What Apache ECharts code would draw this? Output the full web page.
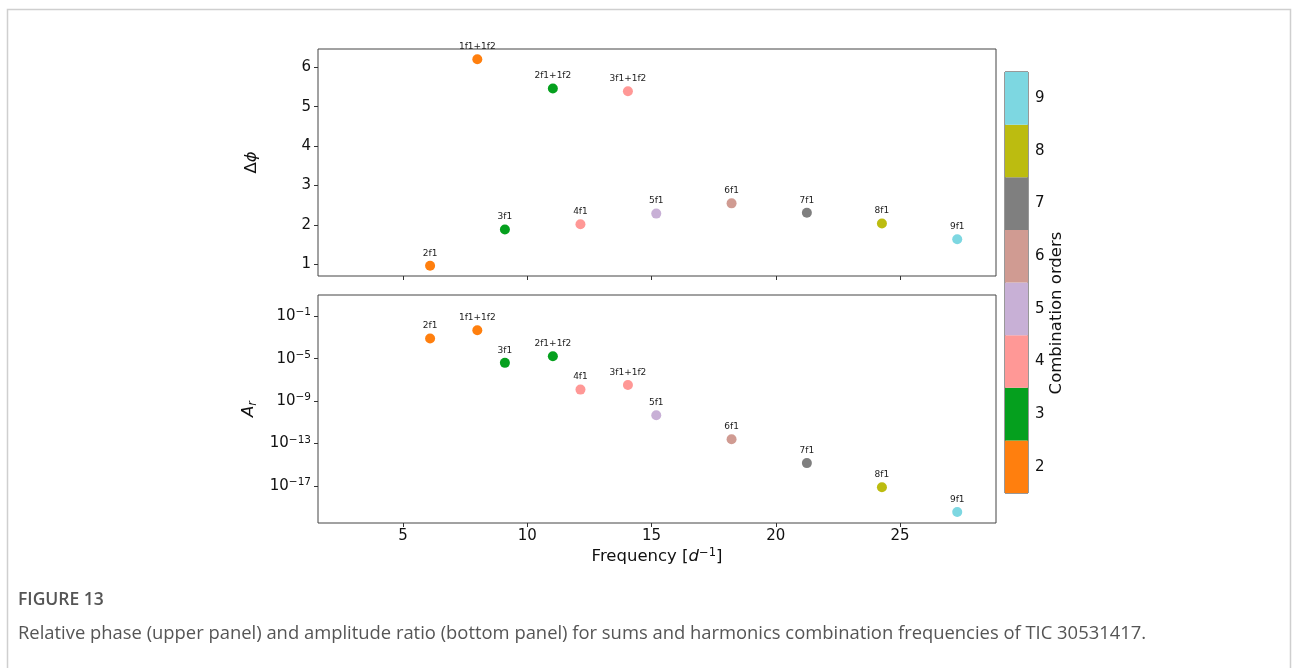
<!DOCTYPE html>
<html>
<head>
<meta charset="utf-8">
<script src="https://cdn.jsdelivr.net/npm/echarts@6/dist/echarts.min.js"></script>
<style>
  html, body { margin: 0; padding: 0; background: #fff; }
  #main { width: 1292px; height: 668px; }
</style>
</head>
<body>
<div id="main"></div>
<script>
// combination frequencies of TIC 30531417
var labels = ['2f1', '1f1+1f2', '3f1', '2f1+1f2', '4f1', '3f1+1f2', '5f1', '6f1', '7f1', '8f1', '9f1']
var freq = [6.09, 7.99, 9.10, 11.03, 12.14, 14.05, 15.19, 18.22, 21.25, 24.27, 27.30]
var phase = [0.97, 6.20, 1.89, 5.46, 2.02, 5.39, 2.29, 2.55, 2.31, 2.04, 1.64]
var ampRatio = [7.9e-4, 4.8e-3, 4.0e-6, 1.7e-5, 1.2e-8, 3.2e-8, 4.6e-11, 2.5e-13, 1.4e-15, 7.4e-18, 3.5e-20]
var orders = [2, 2, 3, 3, 4, 4, 5, 6, 7, 8, 9]

// colorbar
var orderLevels = ['2', '3', '4', '5', '6', '7', '8', '9']
var orderColors = ['#ff7f0e', '#05a01e', '#ff9896', '#c8b0d6', '#d09b92', '#7f7f7f', '#bcbc10', '#7dd7e1']

var xTicks = [5, 10, 15, 20, 25]
var phaseTicks = [1, 2, 3, 4, 5, 6]
var ampTicks = [1e-1, 1e-5, 1e-9, 1e-13, 1e-17]

var font = 'DejaVu Sans'
var chart = echarts.init(document.getElementById('main'))

function colorOf(p) {
  return orderColors[orders[p.dataIndex] - 2]
}

var phaseData = freq.map(function (f, i) { return [f, phase[i]] })
var ampData = freq.map(function (f, i) { return [f, ampRatio[i]] })

var pointLabel = {
  show: true,
  position: 'top',
  distance: 3,
  fontFamily: font,
  fontSize: 9,
  color: '#222',
  formatter: function (p) { return labels[p.dataIndex] }
}

var tickStyle = { show: true, inside: false, length: 4, lineStyle: { color: '#333' } }
var tickFont = { fontFamily: font, fontSize: 15, color: '#111' }

var option = {
  animation: false,
  backgroundColor: '#fff',
  textStyle: { fontFamily: font },
  grid: [
    { left: 318, top: 49, width: 678, height: 227, show: true, borderColor: '#444', borderWidth: 1 },
    { left: 318, top: 295, width: 678, height: 228, show: true, borderColor: '#444', borderWidth: 1 },
    { left: 1005, top: 72, width: 23, height: 421, show: true, borderColor: '#333', borderWidth: 1 }
  ],
  xAxis: [
    {
      gridIndex: 0, type: 'value', min: 1.58, max: 28.86,
      axisLine: { show: false }, splitLine: { show: false },
      axisTick: Object.assign({ customValues: xTicks }, tickStyle),
      axisLabel: { show: false }
    },
    {
      gridIndex: 1, type: 'value', min: 1.58, max: 28.86,
      axisLine: { show: false }, splitLine: { show: false },
      axisTick: Object.assign({ customValues: xTicks }, tickStyle),
      axisLabel: Object.assign({ customValues: xTicks, margin: 6 }, tickFont),
      name: 'Frequency [{i|d}{s|−1}]',
      nameLocation: 'middle',
      nameGap: 24,
      nameTextStyle: {
        fontFamily: font, fontSize: 16.5, color: '#111', lineHeight: 20,
        rich: {
          i: { fontFamily: font, fontSize: 16.5, fontStyle: 'italic', color: '#111', lineHeight: 20 },
          s: { fontFamily: font, fontSize: 11.5, color: '#111', verticalAlign: 'top', lineHeight: 12 }
        }
      }
    },
    {
      gridIndex: 2, type: 'value', min: 0, max: 1, show: false
    }
  ],
  yAxis: [
    {
      gridIndex: 0, type: 'value', min: 0.71, max: 6.46,
      axisLine: { show: false }, splitLine: { show: false },
      axisTick: Object.assign({ customValues: phaseTicks }, tickStyle),
      axisLabel: Object.assign({ customValues: phaseTicks, margin: 7 }, tickFont),
      name: 'Δ{i|ϕ}',
      nameLocation: 'middle',
      nameRotate: 90,
      nameGap: 58,
      nameTextStyle: {
        fontFamily: font, fontSize: 16.5, color: '#111',
        rich: { i: { fontFamily: font, fontSize: 16.5, fontStyle: 'italic', color: '#111' } }
      }
    },
    {
      gridIndex: 1, type: 'log', logBase: 10, min: Math.pow(10, -20.5), max: 10,
      axisLine: { show: false }, splitLine: { show: false },
      axisTick: Object.assign({ customValues: ampTicks }, tickStyle),
      axisLabel: {
        customValues: ampTicks, margin: 7,
        formatter: function (v) {
          var e = Math.round(Math.log10(v))
          return '{b|10}{s|' + String(e).replace('-', '−') + '}'
        },
        rich: {
          b: { fontFamily: font, fontSize: 15, color: '#111', lineHeight: 18 },
          s: { fontFamily: font, fontSize: 10.5, color: '#111', verticalAlign: 'top', lineHeight: 11 }
        }
      },
      name: '{i|A}{s|r}',
      nameLocation: 'middle',
      nameRotate: 90,
      nameGap: 55,
      nameTextStyle: {
        fontFamily: font, fontSize: 16.5, color: '#111',
        rich: {
          i: { fontFamily: font, fontSize: 16.5, fontStyle: 'italic', color: '#111', lineHeight: 20 },
          s: { fontFamily: font, fontSize: 11.5, fontStyle: 'italic', color: '#111', verticalAlign: 'bottom', lineHeight: 12 }
        }
      }
    },
    {
      gridIndex: 2, type: 'category', data: orderLevels, position: 'right',
      axisLine: { show: false }, splitLine: { show: false },
      axisTick: { show: true, alignWithLabel: true, length: 4, lineStyle: { color: '#333' } },
      axisLabel: Object.assign({ margin: 7 }, tickFont)
    }
  ],
  series: [
    {
      type: 'scatter', xAxisIndex: 0, yAxisIndex: 0,
      data: phaseData, symbolSize: 10,
      itemStyle: { color: colorOf, opacity: 1 },
      label: pointLabel
    },
    {
      type: 'scatter', xAxisIndex: 1, yAxisIndex: 1,
      data: ampData, symbolSize: 10,
      itemStyle: { color: colorOf, opacity: 1 },
      label: pointLabel
    },
    {
      type: 'bar', xAxisIndex: 2, yAxisIndex: 2,
      barWidth: '100%',
      data: orderLevels.map(function (lv, i) {
        return { value: 1, itemStyle: { color: orderColors[i] } }
      })
    }
  ],
  graphic: [
    {
      type: 'rect', silent: true,
      shape: { x: 7.5, y: 9.5, width: 1283, height: 720 },
      style: { fill: 'none', stroke: '#cfcfcf', lineWidth: 1.5 }
    },
    {
      type: 'text', x: 1057, y: 313, rotation: Math.PI / 2,
      style: {
        text: 'Combination orders', fontFamily: font, fontSize: 16.5, fill: '#111',
        align: 'center', verticalAlign: 'middle'
      }
    },
    {
      type: 'text', x: 18, y: 600,
      style: {
        text: 'FIGURE 13', fontFamily: 'Open Sans', fontSize: 17.5, fontWeight: 600, fill: '#555',
        align: 'left', verticalAlign: 'middle'
      }
    },
    {
      type: 'text', x: 18, y: 634,
      style: {
        text: 'Relative phase (upper panel) and amplitude ratio (bottom panel) for sums and harmonics combination frequencies of TIC 30531417.',
        fontFamily: 'Open Sans', fontSize: 18.4, fill: '#555',
        align: 'left', verticalAlign: 'middle'
      }
    }
  ]
}

chart.setOption(option)
</script>
</body>
</html>
